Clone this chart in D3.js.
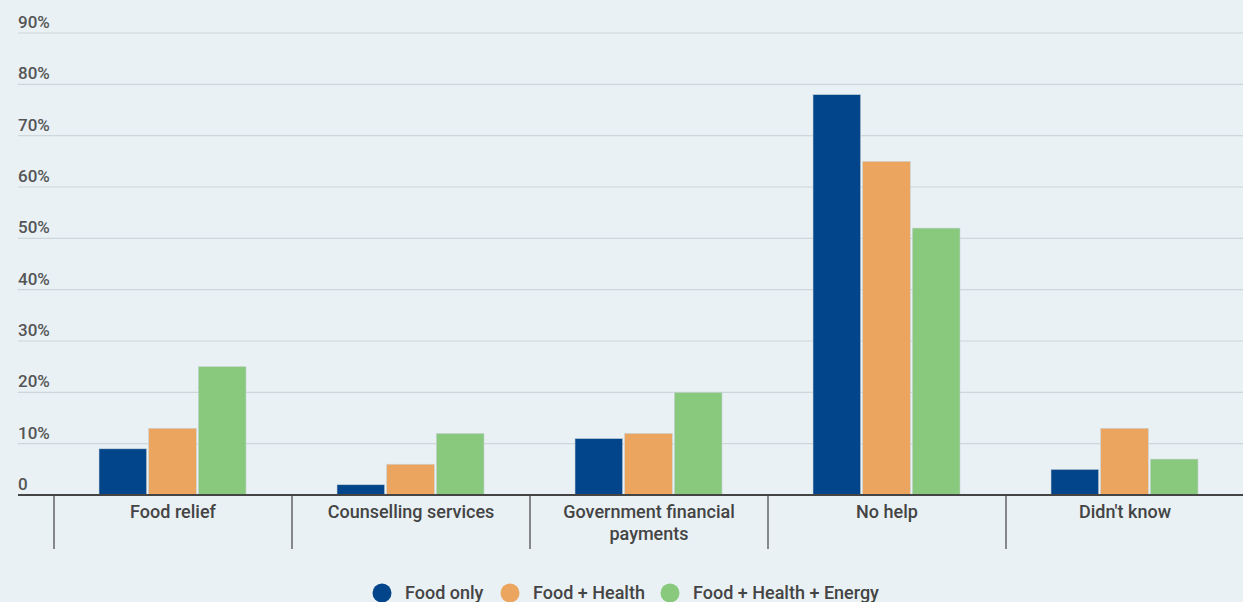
<!DOCTYPE html>
<html><head><meta charset="utf-8">
<script src="https://cdn.jsdelivr.net/npm/d3@7"></script>
<style>
html,body{margin:0;padding:0;background:#e9f1f5;}
svg{display:block;font-family:Roboto,"Noto Sans",sans-serif;}
</style></head>
<body>
<svg id="chart" width="1243" height="602"></svg>
<script>
const categories = [["Food relief"],["Counselling services"],["Government financial","payments"],["No help"],["Didn't know"]];
const seriesNames = ["Food only","Food + Health","Food + Health + Energy"];
const foodOnly = [9, 2, 11, 78, 5];
const foodHealth = [13, 6, 12, 65, 13];
const foodHealthEnergy = [25, 12, 20, 52, 7];
const yTicks = [0,10,20,30,40,50,60,70,80,90];
const colors = ["#02458a","#eba55e","#88c97d"];

const series = [foodOnly, foodHealth, foodHealthEnergy];
const svg = d3.select("#chart");
const W = 1243, H = 602;
const y0 = 495, yTop = 33;
const y = d3.scaleLinear().domain([0,90]).range([y0, yTop]);
const x = d3.scaleBand().domain(d3.range(categories.length)).range([54, 1244]).paddingInner(0).paddingOuter(0);
const x1 = d3.scaleBand().domain(d3.range(series.length)).range([45, x.bandwidth()-46]).paddingInner(0.04).paddingOuter(0);

// gridlines
svg.append("g").selectAll("line").data(yTicks.filter(d=>d>0)).join("line")
  .attr("x1",18).attr("x2",W).attr("y1",d=>y(d)).attr("y2",d=>y(d))
  .attr("stroke","#cdd6da").attr("stroke-width",1.2);

// y labels
svg.append("g").selectAll("text").data(yTicks).join("text")
  .attr("x",18).attr("y",d=>y(d)-5)
  .attr("font-size",17).attr("font-weight",500).attr("fill","#555")
  .text(d=>d===0?"0":d+"%");

// bars
const g = svg.append("g");
categories.forEach((c,i)=>{
  series.forEach((s,j)=>{
    g.append("rect")
      .attr("x", x(i)+x1(j)).attr("width", x1.bandwidth())
      .attr("y", y(s[i])).attr("height", y0 - y(s[i]))
      .attr("fill", colors[j]).attr("stroke","#c9d2d6").attr("stroke-width",0.6);
  });
});

// axis line
svg.append("line").attr("x1",18).attr("x2",W).attr("y1",y0).attr("y2",y0)
  .attr("stroke","#444").attr("stroke-width",2);
// separators
svg.append("g").selectAll("line").data(d3.range(categories.length)).join("line")
  .attr("x1",d=>x(d)).attr("x2",d=>x(d)).attr("y1",y0).attr("y2",549)
  .attr("stroke","#444").attr("stroke-width",1.2);

// category labels
categories.forEach((c,i)=>{
  const t = svg.append("text").attr("x", x(i)+x.bandwidth()/2).attr("y",518)
    .attr("text-anchor","middle").attr("font-size",18).attr("font-weight",500).attr("fill","#444");
  c.forEach((line,k)=>{
    t.append("tspan").attr("x", x(i)+x.bandwidth()/2).attr("dy", k===0?0:22).text(line);
  });
});

// legend
const legX = [382, 510, 670];
seriesNames.forEach((n,j)=>{
  svg.append("circle").attr("cx",legX[j]).attr("cy",593).attr("r",9.5).attr("fill",colors[j]);
  svg.append("text").attr("x",legX[j]+23).attr("y",599).attr("font-size",18).attr("font-weight",500).attr("fill","#444").text(n);
});
</script>
</body></html>
